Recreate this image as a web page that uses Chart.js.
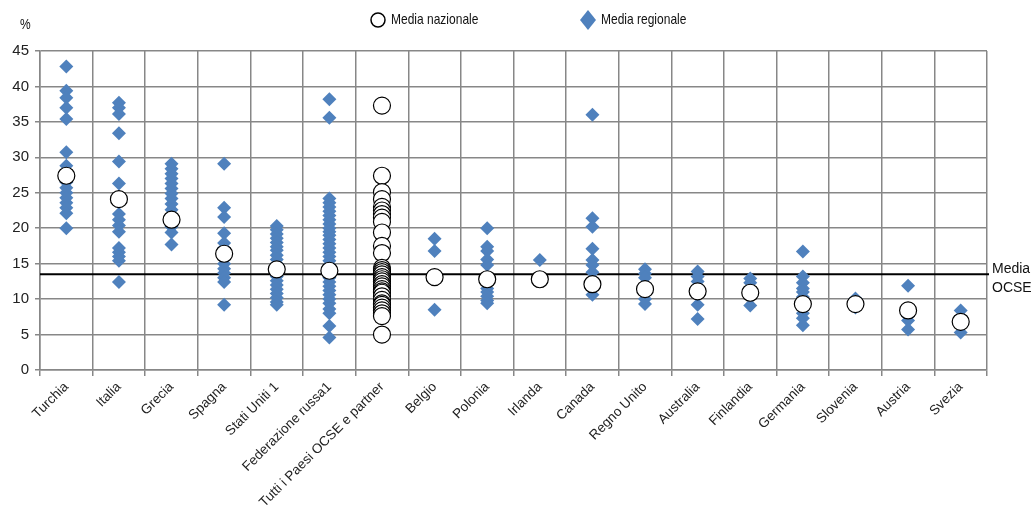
<!DOCTYPE html>
<html>
<head>
<meta charset="utf-8">
<script src="https://cdn.jsdelivr.net/npm/chart.js@4.4.1/dist/chart.umd.min.js"></script>
<style>
  html, body { margin: 0; padding: 0; background: #fff; }
  #wrap { width: 1033px; height: 513px; position: relative; }
</style>
</head>
<body>
<div id="wrap"><canvas id="chart"></canvas></div>
<script>
// Categorie (asse X)
const categories = ['Turchia', 'Italia', 'Grecia', 'Spagna', 'Stati Uniti 1', 'Federazione russa1',
    'Tutti i Paesi OCSE e partner', 'Belgio', 'Polonia', 'Irlanda', 'Canada', 'Regno Unito',
    'Australia', 'Finlandia', 'Germania', 'Slovenia', 'Austria', 'Svezia'];

// Media nazionale per paese (null per la colonna "Tutti i Paesi")
const nationalMeans = [27.4, 24.1, 21.2, 16.4, 14.2, 14.0, null, 13.1, 12.8, 12.8, 12.1, 11.4,
    11.1, 10.9, 9.3, 9.3, 8.4, 6.8];

// Medie nazionali di tutti i paesi OCSE e partner
const allCountryMeans = [37.3, 27.4, 25.1, 24.1, 23.0, 22.5, 22.0, 21.5, 20.9, 19.4, 17.5, 16.5,
    14.4, 14.1, 13.8, 13.5, 13.1, 12.8, 12.5, 12.1, 11.8, 11.4, 11.1, 10.9, 10.4, 9.9, 9.4, 9.2,
    8.8, 8.4, 8.0, 7.6, 5.0];

// Medie regionali
const turchia = [42.8, 39.4, 38.4, 37.0, 35.4, 30.7, 28.8, 26.5, 25.7, 25.0, 24.3, 23.6, 22.9, 22.1, 20.0];
const italia = [37.7, 37.0, 36.1, 33.4, 29.4, 26.3, 22.0, 21.2, 20.4, 19.5, 17.2, 16.6, 16.0, 15.4, 12.4];
const grecia = [29.1, 28.4, 27.7, 27.0, 26.3, 25.6, 24.9, 24.2, 23.4, 22.6, 20.2, 19.4, 17.7];
const spagna = [29.1, 22.9, 21.6, 19.3, 17.9, 17.2, 15.0, 14.3, 13.7, 13.0, 12.4, 9.2];
const statiUniti = [20.3, 19.8, 19.2, 18.6, 18.0, 17.4, 16.9, 16.2, 15.6, 15.0, 14.4, 13.8, 13.2,
    12.6, 12.0, 11.4, 10.8, 10.2, 9.6, 9.2];
const federazioneRussa = [38.2, 35.6, 24.2, 23.6, 23.0, 22.4, 21.8, 21.2, 20.6, 20.0, 19.5, 19.0,
    18.4, 17.8, 17.2, 16.6, 16.0, 15.4, 14.8, 14.2, 13.6, 13.0, 12.4, 11.8, 11.2, 10.6, 10.0, 9.4,
    8.6, 8.0, 6.2, 4.6];
const tuttiPaesi = [];
const belgio = [18.5, 16.8, 8.5];
const polonia = [20.0, 17.4, 16.8, 15.6, 14.8, 11.5, 11.0, 10.4, 9.8, 9.4];
const irlanda = [15.5];
const canada = [36.0, 21.4, 20.2, 17.1, 15.5, 14.8, 13.8, 12.8, 11.5, 10.6];
const regnoUnito = [14.2, 13.6, 13.0, 10.0, 9.3];
const australia = [13.9, 13.2, 12.5, 9.2, 7.2];
const finlandia = [12.9, 12.3, 9.1];
const germania = [16.7, 13.2, 12.3, 11.5, 11.0, 10.3, 9.9, 8.0, 7.3, 6.3];
const slovenia = [10.1, 8.8];
const austria = [11.9, 7.6, 7.0, 5.7];
const svezia = [8.4, 7.5, 5.3];

const regionalValues = [turchia, italia, grecia, spagna, statiUniti, federazioneRussa, tuttiPaesi,
    belgio, polonia, irlanda, canada, regnoUnito, australia, finlandia, germania, slovenia, austria, svezia];

// Media OCSE
const ocseMean = 13.5;
const yTicks = [0, 5, 10, 15, 20, 25, 30, 35, 40, 45];

const nationalPoints = [];
categories.forEach((cat, i) => {
    if (nationalMeans[i] !== null) nationalPoints.push({ x: cat, y: nationalMeans[i] });
});
allCountryMeans.forEach(v => nationalPoints.push({ x: categories[6], y: v }));

const regionalPoints = [];
regionalValues.forEach((vals, i) => {
    vals.forEach(v => regionalPoints.push({ x: categories[i], y: v }));
});

const BLUE = '#4F81BD';
const GRID = '#878787';

// testo stretto (come un font "narrow")
function narrowText(ctx, text, x, y) {
    ctx.save();
    ctx.translate(x, y);
    ctx.scale(0.8, 1);
    ctx.fillText(text, 0, 0);
    ctx.restore();
}

// Linea media OCSE, etichette e legenda
const decorations = {
    id: 'decorations',
    beforeDatasetsDraw(chart) {
        const { ctx, chartArea, scales } = chart;
        const y = scales.y.getPixelForValue(ocseMean);
        ctx.save();
        ctx.strokeStyle = '#000';
        ctx.lineWidth = 2;
        ctx.beginPath();
        ctx.moveTo(chartArea.left, y);
        ctx.lineTo(chartArea.right + 2, y);
        ctx.stroke();
        ctx.restore();
    },
    afterDraw(chart) {
        const { ctx, chartArea, scales } = chart;
        const y = scales.y.getPixelForValue(ocseMean);
        ctx.save();
        ctx.fillStyle = '#111';
        ctx.font = '14px "Liberation Sans", Arial, sans-serif';
        ctx.textAlign = 'left';
        ctx.textBaseline = 'alphabetic';
        ctx.fillText('Media', chartArea.right + 5, y - 1);
        ctx.fillText('OCSE', chartArea.right + 5, y + 18);

        ctx.font = '15px "Liberation Sans", Arial, sans-serif';
        ctx.textBaseline = 'middle';
        narrowText(ctx, '%', 20, 25);

        // legenda
        ctx.lineWidth = 1.5;
        ctx.strokeStyle = '#000';
        ctx.fillStyle = '#fff';
        ctx.beginPath();
        ctx.arc(378, 20, 7, 0, Math.PI * 2);
        ctx.fill();
        ctx.stroke();
        ctx.fillStyle = BLUE;
        ctx.beginPath();
        ctx.moveTo(588, 10);
        ctx.lineTo(596, 20);
        ctx.lineTo(588, 30);
        ctx.lineTo(580, 20);
        ctx.closePath();
        ctx.fill();
        ctx.fillStyle = '#111';
        narrowText(ctx, 'Media nazionale', 391, 20);
        narrowText(ctx, 'Media regionale', 601, 20);
        ctx.restore();
    }
};

new Chart(document.getElementById('chart'), {
    type: 'line',
    data: {
        labels: categories,
        datasets: [
            {
                label: 'Media nazionale',
                data: nationalPoints,
                showLine: false,
                pointStyle: 'circle',
                pointRadius: 8.5,
                pointBackgroundColor: '#fff',
                pointBorderColor: '#000',
                pointBorderWidth: 1.2
            },
            {
                label: 'Media regionale',
                data: regionalPoints,
                showLine: false,
                pointStyle: 'rectRot',
                pointRadius: 7,
                pointBackgroundColor: BLUE,
                pointBorderColor: BLUE,
                pointBorderWidth: 0
            }
        ]
    },
    options: {
        responsive: true,
        maintainAspectRatio: false,
        animation: false,
        events: [],
        layout: { padding: { top: 51, right: 46, left: 0, bottom: 0 } },
        plugins: {
            legend: { display: false },
            tooltip: { enabled: false }
        },
        scales: {
            x: {
                type: 'category',
                offset: true,
                grid: {
                    offset: true,
                    color: GRID,
                    lineWidth: 1.5,
                    tickLength: 6,
                    drawTicks: true
                },
                border: { color: GRID, width: 1.5 },
                ticks: {
                    autoSkip: false,
                    minRotation: 45,
                    maxRotation: 45,
                    padding: 3,
                    color: '#222',
                    font: { family: '"Liberation Sans", Arial, sans-serif', size: 13.5 }
                },
                afterFit(scale) { scale.height = 143; }
            },
            y: {
                min: 0,
                max: 45,
                afterBuildTicks(scale) { scale.ticks = yTicks.map(v => ({ value: v })); },
                grid: {
                    color: GRID,
                    lineWidth: 1.5,
                    tickLength: 5
                },
                border: { color: GRID, width: 1.5 },
                ticks: {
                    padding: 6,
                    color: '#222',
                    font: { family: '"Liberation Sans", Arial, sans-serif', size: 15 }
                },
                afterFit(scale) { scale.width = 40; }
            }
        }
    },
    plugins: [decorations]
});
</script>
</body>
</html>
